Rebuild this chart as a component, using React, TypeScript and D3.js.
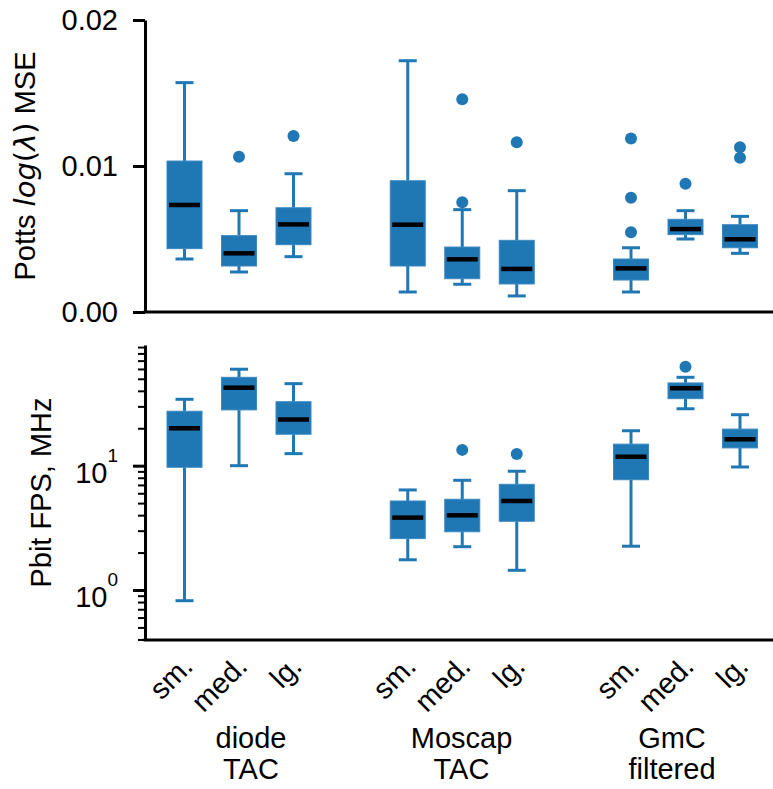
import React, { useEffect, useRef } from 'react';
import * as d3 from 'd3';

// categories
const groupLines = [['diode', 'TAC'], ['Moscap', 'TAC'], ['GmC', 'filtered']];
const sizes = ['sm.', 'med.', 'lg.'];

// top panel: Potts log(lambda) MSE, box stats per (group, size)
const mseLo = [0.00363, 0.00274, 0.00379, 0.00137, 0.0019, 0.0011, 0.00137, 0.005, 0.00402];
const mseQ1 = [0.00434, 0.00315, 0.00461, 0.00315, 0.00228, 0.00192, 0.00219, 0.0053, 0.0044];
const mseMed = [0.00733, 0.00402, 0.006, 0.00598, 0.00361, 0.00295, 0.00299, 0.00568, 0.00498];
const mseQ3 = [0.01034, 0.00523, 0.00714, 0.00899, 0.00445, 0.00491, 0.00363, 0.00635, 0.00598];
const mseHi = [0.01571, 0.00694, 0.00947, 0.01721, 0.00701, 0.00831, 0.0044, 0.00694, 0.00655];
const mseFliers = [[], [0.01064], [0.01205], [], [0.01457, 0.00751], [0.01162], [0.01189, 0.00783, 0.00546], [0.00879], [0.01128, 0.01057]];

// bottom panel: Pbit FPS, MHz
const fpsLo = [0.82, 10.0, 12.5, 1.75, 2.23, 1.44, 2.25, 28.7, 9.76];
const fpsQ1 = [9.71, 28.1, 17.9, 2.59, 2.94, 3.57, 7.71, 34.6, 13.9];
const fpsMed = [20.0, 42.4, 23.5, 3.82, 3.99, 5.2, 11.8, 42.0, 16.3];
const fpsQ3 = [27.4, 51.4, 32.7, 5.2, 5.37, 7.08, 14.9, 46.3, 19.7];
const fpsHi = [34.2, 59.7, 45.7, 6.38, 7.63, 9.02, 19.1, 51.4, 25.7];
const fpsFliers = [[], [], [], [], [13.4], [12.4], [], [62.6], []];

const mseTicks = [0, 0.01, 0.02];
const fpsMajor = [1, 10];
const fpsMinor = [0.4, 0.5, 0.6, 0.7, 0.8, 0.9, 2, 3, 4, 5, 6, 7, 8, 9, 20, 30, 40, 50, 60, 70, 80, 90];

const BLUE = '#1f77b4';
const FONT = '"Liberation Sans", Arial, sans-serif';

const App = () => {
  const svgRef = useRef<SVGSVGElement | null>(null);

  useEffect(() => {
    if (!svgRef.current) return;
    const svg = d3.select(svgRef.current);
    svg.selectAll('*').remove();

    const width = 773;
    const left = 145;

    const xGroup = d3.scalePoint<number>().domain([0, 1, 2]).range([239, 685.5]);
    const xInner = d3.scalePoint<string>().domain(sizes).range([-54.5, 54.5]);
    const xLabel = d3.scalePoint<number>().domain([0, 1, 2]).range([251, 672]);
    const xPos = (i: number) => xGroup(Math.floor(i / 3))! + xInner(sizes[i % 3])!;

    const yTop = d3.scaleLinear().domain([0, 0.02]).range([312, 20]);
    const yBot = d3.scaleLog().domain([0.396, 93.5]).range([640, 345]);

    const drawBoxes = (
      y: (v: number) => number,
      lo: number[], q1: number[], med: number[], q3: number[], hi: number[], fliers: number[][]
    ) => {
      const g = svg.append('g');
      const boxW = 35;
      const capW = 18;
      lo.forEach((_, i) => {
        const cx = xPos(i);
        g.append('line').attr('x1', cx).attr('x2', cx).attr('y1', y(q3[i])).attr('y2', y(hi[i]))
          .attr('stroke', BLUE).attr('stroke-width', 3);
        g.append('line').attr('x1', cx).attr('x2', cx).attr('y1', y(q1[i])).attr('y2', y(lo[i]))
          .attr('stroke', BLUE).attr('stroke-width', 3);
        [lo[i], hi[i]].forEach(v => {
          g.append('line').attr('x1', cx - capW / 2).attr('x2', cx + capW / 2).attr('y1', y(v)).attr('y2', y(v))
            .attr('stroke', BLUE).attr('stroke-width', 3);
        });
        g.append('rect').attr('x', cx - boxW / 2).attr('width', boxW)
          .attr('y', y(q3[i])).attr('height', y(q1[i]) - y(q3[i]))
          .attr('fill', BLUE).attr('stroke', '#3b88c0').attr('stroke-width', 1);
        g.append('line').attr('x1', cx - 15.5).attr('x2', cx + 15.5).attr('y1', y(med[i])).attr('y2', y(med[i]))
          .attr('stroke', '#000').attr('stroke-width', 4.5);
        fliers[i].forEach(v => {
          g.append('circle').attr('cx', cx).attr('cy', y(v)).attr('r', 6).attr('fill', BLUE);
        });
      });
    };

    // --- top panel axes
    const topAxis = svg.append('g').attr('transform', `translate(${left},0)`)
      .call(d3.axisLeft(yTop).tickValues(mseTicks).tickFormat(d3.format('.2f')).tickSize(12).tickSizeOuter(0).tickPadding(15));
    topAxis.select('.domain').attr('stroke-width', 3);
    topAxis.selectAll('.tick line').attr('stroke-width', 3);
    topAxis.selectAll('.tick text').attr('font-size', 29).attr('font-family', FONT).attr('fill', '#000');
    svg.append('line').attr('x1', left - 1.5).attr('x2', width).attr('y1', yTop(0)).attr('y2', yTop(0))
      .attr('stroke', '#000').attr('stroke-width', 3);

    const topLabel = svg.append('text')
      .attr('transform', `translate(35,${(yTop(0) + yTop(0.02)) / 2}) rotate(-90)`)
      .attr('text-anchor', 'middle').attr('font-size', 29).attr('font-family', FONT);
    topLabel.append('tspan').text('Potts ');
    topLabel.append('tspan').attr('font-family', '"DejaVu Sans"').attr('font-style', 'italic').text('log');
    topLabel.append('tspan').attr('font-family', '"DejaVu Sans"').text('(');
    topLabel.append('tspan').attr('font-family', '"DejaVu Sans"').attr('font-style', 'italic').text('λ');
    topLabel.append('tspan').attr('font-family', '"DejaVu Sans"').text(')');
    topLabel.append('tspan').text(' MSE');

    drawBoxes(yTop, mseLo, mseQ1, mseMed, mseQ3, mseHi, mseFliers);

    // --- bottom panel axes
    const botAxis = svg.append('g').attr('transform', `translate(${left},0)`)
      .call(d3.axisLeft(yBot).tickValues(fpsMajor).tickFormat(() => '').tickSize(12).tickSizeOuter(0));
    botAxis.select('.domain').attr('stroke-width', 3);
    botAxis.selectAll('.tick line').attr('stroke-width', 3);
    const minorAxis = svg.append('g').attr('transform', `translate(${left},0)`)
      .call(d3.axisLeft(yBot).tickValues(fpsMinor).tickFormat(() => '').tickSize(7).tickSizeOuter(0));
    minorAxis.select('.domain').remove();
    minorAxis.selectAll('.tick line').attr('stroke-width', 2);

    fpsMajor.forEach(v => {
      const t = svg.append('text').attr('x', 118).attr('y', yBot(v) + 17.5)
        .attr('text-anchor', 'end').attr('font-size', 29).attr('font-family', FONT);
      t.append('tspan').text('10');
      t.append('tspan').attr('dy', -21.5).attr('font-size', 19).text(String(Math.round(Math.log10(v))));
    });

    svg.append('line').attr('x1', left - 1.5).attr('x2', width).attr('y1', 640).attr('y2', 640)
      .attr('stroke', '#000').attr('stroke-width', 3);

    svg.append('text')
      .attr('transform', `translate(51,${(640 + 345) / 2}) rotate(-90)`)
      .attr('text-anchor', 'middle').attr('font-size', 29).attr('font-family', FONT)
      .text('Pbit FPS, MHz');

    drawBoxes(yBot, fpsLo, fpsQ1, fpsMed, fpsQ3, fpsHi, fpsFliers);

    // --- x labels
    d3.range(9).forEach(i => {
      const ax = xPos(i) + 10;
      svg.append('text').attr('transform', `translate(${ax},668) rotate(-45)`)
        .attr('text-anchor', 'end').attr('font-size', 29).attr('font-family', FONT)
        .text(sizes[i % 3]);
    });

    groupLines.forEach((lines, gi) => {
      const t = svg.append('text').attr('text-anchor', 'middle').attr('font-size', 29).attr('font-family', FONT);
      lines.forEach((line, li) => {
        t.append('tspan').attr('x', xLabel(gi)!).attr('y', 748 + li * 31).text(line);
      });
    });
  }, []);

  return (
    <svg
      ref={svgRef}
      width={773}
      height={789}
      style={{ position: 'absolute', left: 0, top: 0, background: '#fff' }}
    />
  );
};

export default App;
